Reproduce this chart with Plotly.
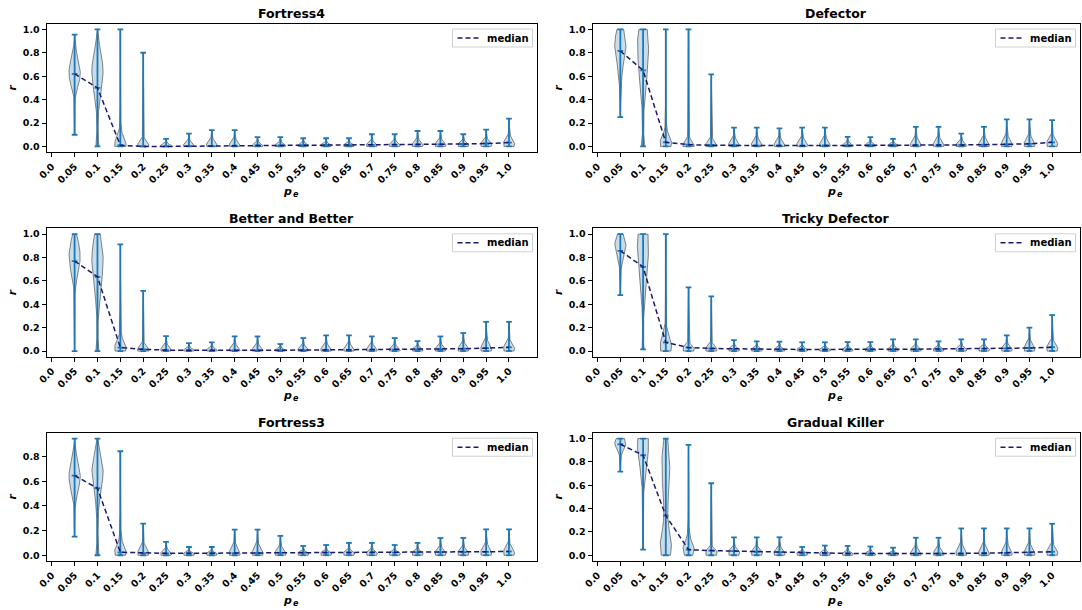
import numpy as np
import plotly.graph_objects as go

W, H = 1082, 610

# x tick labels (p_e values); violins sit at positions 1..20
PE_LABELS = ["0.0", "0.05", "0.1", "0.15", "0.2", "0.25", "0.3", "0.35", "0.4", "0.45", "0.5",
             "0.55", "0.6", "0.65", "0.7", "0.75", "0.8", "0.85", "0.9", "0.95", "1.0"]

TITLES = ["Fortress4", "Defector", "Better and Better", "Tricky Defector", "Fortress3", "Gradual Killer"]

# ---- Fortress4 ----
fortress4_min = [0.10, 0.0, 0.0, 0.0, 0.0, 0.0, 0.0, 0.0, 0.0, 0.0, 0.0, 0.0, 0.0, 0.0, 0.0, 0.0, 0.0, 0.0, 0.0, 0.0]
fortress4_max = [0.955, 1.0, 1.0, 0.80, 0.064, 0.11, 0.14, 0.14, 0.08, 0.08, 0.07, 0.07, 0.07, 0.104, 0.104,
                 0.132, 0.132, 0.104, 0.144, 0.238]
fortress4_median = [0.62, 0.50, 0.01, 0.0, 0.0, 0.003, 0.004, 0.006, 0.008, 0.009, 0.010, 0.011, 0.012, 0.013,
                    0.014, 0.016, 0.018, 0.021, 0.025, 0.033]
fortress4_density = {
    0: [(0.10, 0.02), (0.40, 0.06), (0.47, 0.3), (0.55, 0.8), (0.62, 1.0), (0.70, 0.85), (0.78, 0.45),
        (0.85, 0.15), (0.955, 0.03)],
    1: [(0.0, 0.3), (0.04, 0.15), (0.15, 0.08), (0.28, 0.15), (0.4, 0.4), (0.55, 0.85), (0.66, 1.0),
        (0.78, 0.7), (0.9, 0.2), (1.0, 0.04)],
    2: [(0.0, 0.9), (0.03, 1.0), (0.08, 0.6), (0.13, 0.15), (0.25, 0.04), (0.6, 0.03), (1.0, 0.01)],
}

# ---- Defector ----
defector_min = [0.25, 0.0, 0.0, 0.0, 0.0, 0.0, 0.0, 0.0, 0.0, 0.0, 0.0, 0.0, 0.0, 0.0, 0.0, 0.0, 0.0, 0.0, 0.0, 0.0]
defector_max = [1.0, 1.0, 1.0, 1.0, 0.615, 0.16, 0.16, 0.155, 0.16, 0.161, 0.081, 0.08, 0.064, 0.167, 0.167,
                0.11, 0.167, 0.232, 0.232, 0.224]
defector_median = [0.815, 0.65, 0.035, 0.015, 0.01, 0.008, 0.007, 0.007, 0.007, 0.008, 0.008, 0.009, 0.010,
                   0.010, 0.012, 0.013, 0.015, 0.018, 0.022, 0.035]
defector_density = {
    0: [(0.25, 0.02), (0.45, 0.05), (0.55, 0.2), (0.65, 0.35), (0.75, 0.7), (0.86, 1.0), (0.94, 0.85),
        (1.0, 0.55)],
    1: [(0.0, 0.35), (0.04, 0.15), (0.15, 0.1), (0.3, 0.15), (0.45, 0.35), (0.6, 0.7), (0.8, 0.95),
        (0.9, 1.0), (1.0, 0.7)],
    2: [(0.0, 0.8), (0.04, 1.0), (0.09, 0.6), (0.14, 0.15), (0.25, 0.04), (1.0, 0.01)],
}

# ---- Better and Better ----
better_min = [0.0] * 20
better_max = [1.0, 1.0, 0.912, 0.515, 0.128, 0.068, 0.075, 0.125, 0.125, 0.06, 0.111, 0.134, 0.134, 0.125,
              0.111, 0.085, 0.125, 0.154, 0.25, 0.25]
better_median = [0.77, 0.635, 0.03, 0.015, 0.008, 0.006, 0.006, 0.006, 0.006, 0.007, 0.008, 0.009, 0.010,
                 0.011, 0.012, 0.014, 0.016, 0.020, 0.025, 0.032]
better_density = {
    0: [(0.0, 0.02), (0.5, 0.04), (0.58, 0.25), (0.68, 0.65), (0.8, 1.0), (0.9, 0.8), (0.97, 0.45),
        (1.0, 0.3)],
    1: [(0.0, 0.3), (0.04, 0.12), (0.2, 0.06), (0.35, 0.15), (0.5, 0.45), (0.65, 0.85), (0.8, 1.0),
        (0.92, 0.8), (1.0, 0.45)],
    2: [(0.0, 0.8), (0.03, 1.0), (0.07, 0.7), (0.12, 0.2), (0.25, 0.06), (0.5, 0.04), (0.912, 0.01)],
}

# ---- Tricky Defector ----
tricky_min = [0.479, 0.015, 0.0, 0.0, 0.0, 0.0, 0.0, 0.0, 0.0, 0.0, 0.0, 0.0, 0.0, 0.0, 0.0, 0.0, 0.0, 0.0, 0.0, 0.0]
tricky_max = [1.0, 1.0, 1.0, 0.544, 0.467, 0.094, 0.083, 0.08, 0.075, 0.075, 0.077, 0.077, 0.1, 0.1, 0.083,
              0.1, 0.1, 0.134, 0.2, 0.308]
tricky_median = [0.857, 0.72, 0.074, 0.03, 0.022, 0.018, 0.016, 0.015, 0.014, 0.013, 0.013, 0.014, 0.015,
                 0.016, 0.017, 0.018, 0.020, 0.022, 0.026, 0.033]
tricky_density = {
    0: [(0.479, 0.02), (0.62, 0.08), (0.72, 0.15), (0.8, 0.5), (0.9, 1.0), (0.96, 0.8), (1.0, 0.45)],
    1: [(0.015, 0.2), (0.05, 0.1), (0.2, 0.06), (0.35, 0.15), (0.5, 0.4), (0.7, 0.8), (0.9, 1.0),
        (1.0, 0.85)],
    2: [(0.0, 0.85), (0.05, 1.0), (0.1, 0.75), (0.16, 0.35), (0.22, 0.1), (0.4, 0.04), (0.7, 0.03),
        (1.0, 0.02)],
}

# ---- Fortress3 ----
fortress3_min = [0.151, 0.0, 0.0, 0.0, 0.0, 0.0, 0.0, 0.0, 0.0, 0.0, 0.0, 0.0, 0.0, 0.0, 0.0, 0.0, 0.0, 0.0, 0.0, 0.0]
fortress3_max = [0.946, 0.946, 0.843, 0.256, 0.108, 0.067, 0.067, 0.208, 0.208, 0.157, 0.075, 0.083, 0.1, 0.1,
                 0.083, 0.1, 0.14, 0.14, 0.21, 0.21]
fortress3_median = [0.646, 0.543, 0.024, 0.018, 0.016, 0.016, 0.017, 0.018, 0.019, 0.020, 0.021, 0.021, 0.022,
                    0.022, 0.022, 0.023, 0.024, 0.025, 0.027, 0.030]
fortress3_density = {
    0: [(0.151, 0.02), (0.38, 0.05), (0.46, 0.3), (0.55, 0.75), (0.64, 1.0), (0.72, 0.8), (0.8, 0.4),
        (0.87, 0.12), (0.946, 0.03)],
    1: [(0.0, 0.3), (0.04, 0.12), (0.2, 0.06), (0.35, 0.15), (0.45, 0.35), (0.58, 0.8), (0.68, 1.0),
        (0.78, 0.7), (0.88, 0.25), (0.946, 0.05)],
    2: [(0.0, 0.8), (0.03, 1.0), (0.07, 0.7), (0.12, 0.2), (0.25, 0.04), (0.843, 0.01)],
}

# ---- Gradual Killer ----
gradual_min = [0.716, 0.048, 0.0, 0.0, 0.0, 0.0, 0.0, 0.0, 0.0, 0.0, 0.0, 0.0, 0.0, 0.0, 0.0, 0.0, 0.0, 0.0, 0.0, 0.0]
gradual_max = [1.0, 1.0, 1.0, 0.945, 0.617, 0.154, 0.154, 0.154, 0.071, 0.083, 0.08, 0.075, 0.065, 0.15, 0.15,
               0.23, 0.23, 0.23, 0.23, 0.27]
gradual_median = [0.951, 0.857, 0.34, 0.048, 0.04, 0.035, 0.03, 0.025, 0.02, 0.018, 0.016, 0.015, 0.014, 0.014,
                  0.015, 0.016, 0.018, 0.020, 0.023, 0.030]
gradual_density = {
    0: [(0.716, 0.03), (0.82, 0.06), (0.87, 0.2), (0.92, 0.75), (0.96, 1.0), (1.0, 0.7)],
    1: [(0.048, 0.03), (0.3, 0.05), (0.55, 0.12), (0.7, 0.35), (0.82, 0.75), (0.93, 1.0), (1.0, 0.9)],
    2: [(0.0, 0.75), (0.07, 1.0), (0.15, 0.85), (0.25, 0.45), (0.35, 0.3), (0.45, 0.35), (0.6, 0.55),
        (0.75, 0.7), (0.85, 0.65), (0.95, 0.45), (1.0, 0.3)],
    3: [(0.0, 0.6), (0.05, 1.0), (0.1, 0.7), (0.15, 0.25), (0.25, 0.05), (0.945, 0.01)],
}

PANELS = [
    (fortress4_min, fortress4_max, fortress4_median, fortress4_density),
    (defector_min, defector_max, defector_median, defector_density),
    (better_min, better_max, better_median, better_density),
    (tricky_min, tricky_max, tricky_median, tricky_density),
    (fortress3_min, fortress3_max, fortress3_median, fortress3_density),
    (gradual_min, gradual_max, gradual_median, gradual_density),
]

# axes boxes in pixels
COLS = [(46.6, 537.0), (592.5, 1080.0)]
ROWS = [(23.5, 152.3), (228.3, 356.9), (432.7, 561.1)]

BLUE = "#1f77b4"
NAVY = "#191970"
HALF_WIDTH = 0.25   # violin half width (in position units)
CAP = 0.125         # half length of min/max/median caps
FONT = "DejaVu Sans"
DASH = "5px,3px"


def tail_knots(lo, hi, med):
    """Density profile for the small violins that pile up near their minimum."""
    h = hi - lo
    b = min(0.5 * h, 0.1) if h < 0.4 else 0.07
    m = min(max(med, lo + 0.2 * b), lo + 0.6 * b)
    return [(lo, 0.85), (m, 1.0), (lo + b, 0.12), (hi, 0.02)]


def outline(pos, lo, hi, knots, n=160):
    r = np.linspace(lo, hi, n)
    kr = [k[0] for k in knots]
    kd = [k[1] for k in knots]
    d = np.interp(r, kr, kd)
    kern = np.exp(-0.5 * (np.arange(-6, 7) / 3.0) ** 2)
    kern /= kern.sum()
    d = np.convolve(np.pad(d, 6, mode="edge"), kern, mode="valid")
    half = HALF_WIDTH * d / d.max()
    xs = np.concatenate([pos - half, (pos + half)[::-1], [pos - half[0]]])
    ys = np.concatenate([r, r[::-1], [r[0]]])
    return list(xs), list(ys)


def label(text, x_px, y_px, size, anchor="center", angle=0, italic=False):
    font = dict(family=FONT, size=size, color="black", weight="bold")
    if italic:
        font["style"] = "italic"
    return dict(text=text, x=x_px / W, y=1 - y_px / H, xref="paper", yref="paper",
                xanchor=anchor, yanchor="middle", textangle=angle, showarrow=False,
                borderpad=0, font=font)


fig = go.Figure()
annotations = []
shapes = []

for k, (mins, maxs, meds, dens) in enumerate(PANELS):
    n = k + 1
    row, col = divmod(k, 2)
    x0, x1 = COLS[col]
    top, bot = ROWS[row]
    xa, ya = f"x{n}", f"y{n}"
    positions = list(range(1, len(meds) + 1))

    # violin bodies
    bx, by = [], []
    for i, pos in enumerate(positions):
        knots = dens.get(i, tail_knots(mins[i], maxs[i], meds[i]))
        xs, ys = outline(pos, mins[i], maxs[i], knots)
        bx += xs + [None]
        by += ys + [None]
    fig.add_trace(go.Scatter(x=bx, y=by, xaxis=xa, yaxis=ya, mode="lines", fill="toself",
                             fillcolor="rgba(31,119,180,0.25)",
                             line=dict(color="rgba(40,40,40,0.55)", width=1),
                             hoverinfo="skip", showlegend=False))

    # extrema bars and caps, median caps
    wx, wy = [], []
    for i, pos in enumerate(positions):
        wx += [pos, pos, None]
        wy += [mins[i], maxs[i], None]
        for v in (mins[i], maxs[i], meds[i]):
            wx += [pos - CAP, pos + CAP, None]
            wy += [v, v, None]
    fig.add_trace(go.Scatter(x=wx, y=wy, xaxis=xa, yaxis=ya, mode="lines",
                             line=dict(color=BLUE, width=1.8), hoverinfo="skip", showlegend=False))

    # median line
    fig.add_trace(go.Scatter(x=positions, y=meds, xaxis=xa, yaxis=ya, mode="lines", name="median",
                             line=dict(color=NAVY, width=1.5, dash=DASH), showlegend=False))

    lo_all, hi_all = min(mins), max(maxs)
    span = hi_all - lo_all
    yr = [lo_all - 0.05 * span, hi_all + 0.05 * span]

    tickfont = dict(family=FONT, size=9.5, color="black", weight="bold")
    fig.layout[f"xaxis{n}"] = dict(
        domain=[x0 / W, x1 / W], anchor=ya, range=[-0.225, 21.225],
        tickmode="array", tickvals=list(range(len(PE_LABELS))), ticktext=PE_LABELS,
        tickangle=-45, ticks="outside", ticklen=4, tickwidth=1, tickcolor="black",
        showline=True, linecolor="black", linewidth=1, mirror=True,
        showgrid=False, zeroline=False, tickfont=tickfont, automargin=False)
    fig.layout[f"yaxis{n}"] = dict(
        domain=[1 - bot / H, 1 - top / H], anchor=xa, range=yr,
        tickmode="linear", tick0=0, dtick=0.2, tickformat=".1f",
        ticks="outside", ticklen=4, tickwidth=1, tickcolor="black",
        showline=True, linecolor="black", linewidth=1, mirror=True,
        showgrid=False, zeroline=False, tickfont=tickfont, automargin=False)

    # legend box (upper right of each panel)
    lx1 = x1 - 4.5
    lx0 = lx1 - 80
    ly0 = top + 5.5
    ly1 = ly0 + 18
    shapes.append(dict(type="rect", xref="paper", yref="paper",
                       x0=lx0 / W, x1=lx1 / W, y0=1 - ly1 / H, y1=1 - ly0 / H,
                       line=dict(color="#d0d0d0", width=1), fillcolor="white", layer="above"))
    shapes.append(dict(type="line", xref="paper", yref="paper",
                       x0=(lx0 + 5) / W, x1=(lx0 + 27) / W, y0=1 - (ly0 + 9) / H, y1=1 - (ly0 + 9) / H,
                       line=dict(color=NAVY, width=1.5, dash=DASH), layer="above"))
    annotations.append(label("median", lx0 + 33, ly0 + 9, 10, anchor="left"))

    cx = (x0 + x1) / 2
    annotations.append(label(TITLES[k], cx, top - 10, 12.5))
    # x axis label p_e (italic p with subscript e)
    annotations.append(label("p", cx + 1, bot + 39, 11, anchor="right", italic=True))
    annotations.append(label("e", cx, bot + 42, 8, anchor="left", italic=True))
    # y axis label
    annotations.append(label("r", x0 - 35, (top + bot) / 2, 10.5, angle=-90, italic=True))

fig.update_layout(
    width=W, height=H, margin=dict(l=0, r=0, t=0, b=0),
    paper_bgcolor="white", plot_bgcolor="white",
    font=dict(family=FONT, color="black"),
    annotations=annotations, shapes=shapes, showlegend=False,
)

fig.write_html("out.html")
